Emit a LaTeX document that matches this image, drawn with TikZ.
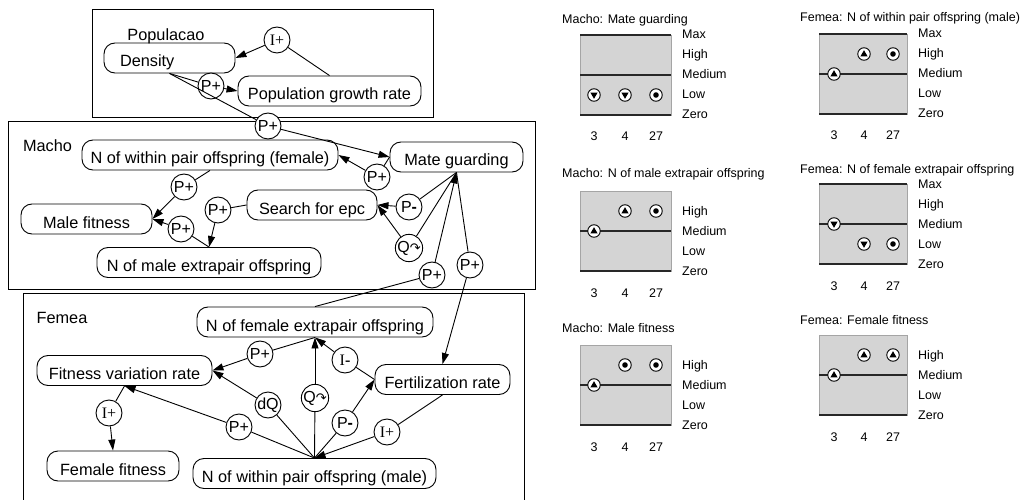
\documentclass[tikz,border=0pt]{standalone}
\usepackage{fontspec}
\setmainfont{Liberation Sans}
\newfontfamily\serifI{Liberation Serif}
\newfontfamily\arrowfont{DejaVu Sans}
\usepackage{tikz}
\usetikzlibrary{arrows.meta, shapes.geometric}
\definecolor{panelgrey}{RGB}{212,212,212}
\definecolor{paneledge}{RGB}{165,165,165}
\definecolor{levelline}{RGB}{40,40,40}

\begin{document}
\begin{tikzpicture}[
  x=1pt, y=-1pt,
  box/.style={rectangle, draw, line width=0.9pt, rounded corners=11pt, minimum height=30pt, text height=19pt, text depth=1pt, inner xsep=8pt, font=\fontsize{16.3}{18}\selectfont},
  dep/.style={circle, draw, line width=0.9pt, fill=white, inner sep=0pt, minimum size=26pt, font=\fontsize{16}{18}\selectfont},
  group/.style={inner sep=0pt, font=\fontsize{16.3}{18}\selectfont},
  frame/.style={draw, line width=1pt},
  arrow/.style={-{Triangle[length=11pt,width=7pt]}, line width=0.9pt},
  link/.style={line width=0.9pt},
  title/.style={anchor=west, inner sep=0pt, font=\fontsize{12.5}{14}\selectfont},
  level/.style={anchor=west, inner sep=0pt, text height=8pt, text depth=0pt, font=\fontsize{12.5}{14}\selectfont},
  tick/.style={inner sep=0pt, text height=8pt, text depth=0pt, font=\fontsize{12.5}{14}\selectfont},
  vm/.style={circle, draw, line width=0.9pt, fill=white, minimum size=12.5pt, inner sep=0pt},
  vmup/.style={vm, path picture={\fill[black] (path picture bounding box.center) ++(0pt,3.8pt) -- ++(-3.6pt,-6.2pt) -- ++(7.2pt,0pt) -- cycle;}},
  vmdown/.style={vm, path picture={\fill[black] (path picture bounding box.center) ++(0pt,-3.8pt) -- ++(-3.6pt,6.2pt) -- ++(7.2pt,0pt) -- cycle;}},
  vmsteady/.style={vm, path picture={\fill[black] (path picture bounding box.center) circle (2.8pt);}}
]
\useasboundingbox (0,0) rectangle (1023,500);

% frames of the three entities
\draw[frame] (92,10) rectangle (433,118);
\draw[frame] (8,122) rectangle (535,289);
\draw[frame] (23,500) -- (23,293) -- (524,293) -- (524,500);
\node[group] (popl) at (166,36) {Populacao};
\node[group] (machol) at (47.5,146) {Macho};
\node[group] (femeal) at (62,318) {Femea};

% quantities
\node[box, text width=99pt, align=left, inner xsep=16pt] (den) at (169.5,58) {Density};
\node[box, minimum width=183pt] (pgr) at (329.5,91) {Population growth rate};
\node[box, minimum width=256pt] (nwf) at (210,155) {N of within pair offspring (female)};
\node[box, minimum width=133pt] (mg) at (456.5,157) {Mate guarding};
\node[box, minimum width=131pt] (mf) at (86.5,219) {Male fitness};
\node[box, minimum width=130pt] (sepc) at (312,205) {Search for epc};
\node[box, minimum width=224pt] (nme) at (209,262.5) {N of male extrapair offspring};
\node[box, minimum width=236pt] (nfe) at (315,322) {N of female extrapair offspring};
\node[box, minimum width=175pt] (fvr) at (124.5,370.5) {Fitness variation rate};
\node[box, minimum width=135pt] (fr) at (442.5,379.5) {Fertilization rate};
\node[box, minimum width=132pt] (ff) at (113,466) {Female fitness};
\node[box, minimum width=243pt] (nwm) at (314.5,473.5) {N of within pair offspring (male)};

% dependencies
\node[dep] (ipop) at (277,40) {\serifI I+};
\node[dep] (pden) at (211,86) {P+};
\node[dep] (pmg) at (268,126) {P+};
\node[dep] (pnwf) at (377,177) {P+};
\node[dep] (pmf1) at (184,187) {P+};
\node[dep] (pnme) at (218,210) {P+};
\node[dep] (pmf2) at (181,229) {P+};
\node[dep] (msepc) at (409,207) {P{\bfseries -}};
\node[dep] (qsepc) at (409,248) {Q{\arrowfont\fontsize{13}{14}\selectfont ↷}};
\node[dep] (pnfe) at (432,275) {P+};
\node[dep] (pfr) at (470,265) {P+};
\node[dep] (pfvr1) at (260,354) {P+};
\node[dep] (dq) at (268,405) {dQ};
\node[dep] (qnfe) at (315,398) {Q{\arrowfont\fontsize{13}{14}\selectfont ↷}};
\node[dep] (infe) at (345,360) {\serifI I{\bfseries -}};
\node[dep] (mfr) at (345,423) {P{\bfseries -}};
\node[dep] (inwm) at (387,432) {\serifI I+};
\node[dep] (pfvr2) at (239,427) {P+};
\node[dep] (iff) at (109,413) {\serifI I+};

\draw[link] (pgr.north) -- (ipop);
\draw[arrow] (ipop) -- (den.east);
\draw[link] (den.south) -- (pden);
\draw[arrow] (pden) -- (pgr.west);
\draw[link] (den.south) -- (pmg);
\draw[arrow] (pmg) -- (mg.west);
\draw[link] (mg.west) -- (pnwf);
\draw[arrow] (pnwf) -- (nwf.east);
\draw[link] (nwf.south) -- (pmf1);
\draw[arrow] (pmf1) -- (mf.east);
\draw[link] (sepc.west) -- (pnme);
\draw[arrow] (pnme) -- (nme.north);
\draw[link] (nme.north) -- (pmf2);
\draw[arrow] (pmf2) -- (mf.east);
\draw[link] (mg.south) -- (msepc);
\draw[arrow] (msepc) -- (sepc.east);
\draw[link] (mg.south) -- (qsepc);
\draw[arrow] (qsepc) -- (sepc.east);
\draw[link] (nfe.north) -- (pnfe);
\draw[arrow] (pnfe) -- (mg.south);
\draw[link] (mg.south) -- (pfr);
\draw[arrow] (pfr) -- (fr.north);
\draw[link] (nfe.south) -- (pfvr1);
\draw[arrow] (pfvr1) -- (fvr.east);
\draw[link] (nwm.north) -- (dq);
\draw[arrow] (dq) -- (fvr.east);
\draw[link] (nwm.north) -- (qnfe);
\draw[arrow] (qnfe) -- (nfe.south);
\draw[link] (fr.west) -- (infe);
\draw[arrow] (infe) -- (nfe.south);
\draw[link] (nwm.north) -- (mfr);
\draw[arrow] (mfr) -- (fr.west);
\draw[link] (fr.south) -- (inwm);
\draw[arrow] (inwm) -- (nwm.north);
\draw[link] (nwm.north) -- (pfvr2);
\draw[arrow] (pfvr2) -- (fvr.south);
\draw[link] (fvr.south) -- (iff);
\draw[arrow] (iff) -- (ff.north);

% value histories: Macho
\node[title] (t1) at (562,20) {Macho: Mate guarding};
\filldraw[fill=panelgrey, draw=paneledge] (580,35) rectangle (671,115);
\draw[levelline, line width=1.2pt] (580,35) -- (671,35) (580,75) -- (671,75) (580,115) -- (671,115);
\node[level] (l1a) at (682,35) {Max};
\node[level] (l1b) at (682,55) {High};
\node[level] (l1c) at (682,75) {Medium};
\node[level] (l1d) at (682,95) {Low};
\node[level] (l1e) at (682,115) {Zero};
\node[vmdown] (m1a) at (594,95) {};
\node[vmdown] (m1b) at (625,95) {};
\node[vmsteady] (m1c) at (656,95) {};
\node[tick] (n1a) at (594,137) {3};
\node[tick] (n1b) at (625,137) {4};
\node[tick] (n1c) at (656,137) {27};

\node[title] (t2) at (562,174) {Macho: N of male extrapair offspring};
\filldraw[fill=panelgrey, draw=paneledge] (580,191) rectangle (671,271);
\draw[levelline, line width=1.2pt] (580,231) -- (671,231) (580,271) -- (671,271);
\node[level] (l2b) at (682,211) {High};
\node[level] (l2c) at (682,231) {Medium};
\node[level] (l2d) at (682,251) {Low};
\node[level] (l2e) at (682,271) {Zero};
\node[vmup] (m2a) at (594,231) {};
\node[vmup] (m2b) at (625,211) {};
\node[vmsteady] (m2c) at (656,211) {};
\node[tick] (n2a) at (594,293) {3};
\node[tick] (n2b) at (625,293) {4};
\node[tick] (n2c) at (656,293) {27};

\node[title] (t3) at (562,328) {Macho: Male fitness};
\filldraw[fill=panelgrey, draw=paneledge] (580,345) rectangle (671,425);
\draw[levelline, line width=1.2pt] (580,385) -- (671,385) (580,425) -- (671,425);
\node[level] (l3b) at (682,365) {High};
\node[level] (l3c) at (682,385) {Medium};
\node[level] (l3d) at (682,405) {Low};
\node[level] (l3e) at (682,425) {Zero};
\node[vmup] (m3a) at (594,385) {};
\node[vmsteady] (m3b) at (625,365) {};
\node[vmsteady] (m3c) at (656,365) {};
\node[tick] (n3a) at (594,447) {3};
\node[tick] (n3b) at (625,447) {4};
\node[tick] (n3c) at (656,447) {27};

% value histories: Femea
\node[title] (t4) at (800,18) {Femea: N of within pair offspring (male)};
\filldraw[fill=panelgrey, draw=paneledge] (819,34) rectangle (907,114);
\draw[levelline, line width=1.2pt] (819,34) -- (907,34) (819,74) -- (907,74) (819,114) -- (907,114);
\node[level] (l4a) at (918,34) {Max};
\node[level] (l4b) at (918,54) {High};
\node[level] (l4c) at (918,74) {Medium};
\node[level] (l4d) at (918,94) {Low};
\node[level] (l4e) at (918,114) {Zero};
\node[vmup] (m4a) at (834,74) {};
\node[vmup] (m4b) at (864,54) {};
\node[vmsteady] (m4c) at (893,54) {};
\node[tick] (n4a) at (834,136) {3};
\node[tick] (n4b) at (864,136) {4};
\node[tick] (n4c) at (893,136) {27};

\node[title] (t5) at (800,170) {Femea: N of female extrapair offspring};
\filldraw[fill=panelgrey, draw=paneledge] (819,184) rectangle (907,264);
\draw[levelline, line width=1.2pt] (819,184) -- (907,184) (819,224) -- (907,224) (819,264) -- (907,264);
\node[level] (l5a) at (918,184) {Max};
\node[level] (l5b) at (918,204) {High};
\node[level] (l5c) at (918,224) {Medium};
\node[level] (l5d) at (918,244) {Low};
\node[level] (l5e) at (918,264) {Zero};
\node[vmdown] (m5a) at (834,224) {};
\node[vmdown] (m5b) at (864,244) {};
\node[vmsteady] (m5c) at (893,244) {};
\node[tick] (n5a) at (834,286) {3};
\node[tick] (n5b) at (864,286) {4};
\node[tick] (n5c) at (893,286) {27};

\node[title] (t6) at (800,320) {Femea: Female fitness};
\filldraw[fill=panelgrey, draw=paneledge] (819,335) rectangle (907,415);
\draw[levelline, line width=1.2pt] (819,375) -- (907,375) (819,415) -- (907,415);
\node[level] (l6b) at (918,355) {High};
\node[level] (l6c) at (918,375) {Medium};
\node[level] (l6d) at (918,395) {Low};
\node[level] (l6e) at (918,415) {Zero};
\node[vmup] (m6a) at (834,375) {};
\node[vmup] (m6b) at (864,355) {};
\node[vmup] (m6c) at (893,355) {};
\node[tick] (n6a) at (834,437) {3};
\node[tick] (n6b) at (864,437) {4};
\node[tick] (n6c) at (893,437) {27};
\end{tikzpicture}
\end{document}
